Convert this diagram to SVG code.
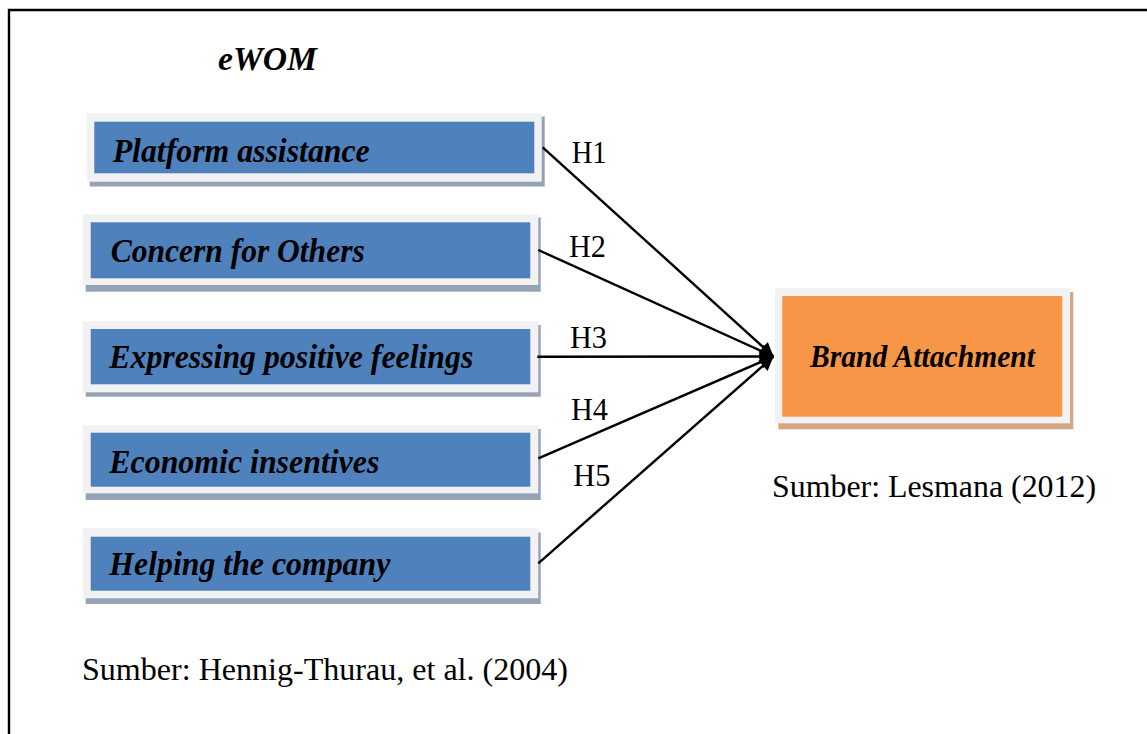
<svg xmlns="http://www.w3.org/2000/svg" width="1147" height="734" viewBox="0 0 1147 734">
<defs>
<style>
.outer{fill:#f2f2f2}
.shb{fill:#95a3b6}
.sho{fill:#d3a784}
.blue{fill:#4f81bd}
.orange{fill:#f79646}
.lbl{font-family:"Liberation Serif","Times New Roman",serif;font-weight:bold;font-style:italic;font-size:34px;fill:#000}
.reg{font-family:"Liberation Serif","Times New Roman",serif;font-size:32px;fill:#000}
.conn{stroke:#000;stroke-width:2.4;fill:none;marker-end:url(#ah)}
</style>
<marker id="ah" markerUnits="userSpaceOnUse" markerWidth="18" markerHeight="18" refX="14" refY="9" orient="auto">
<path d="M0,2 L14,9 L0,16 Z" fill="#000"/>
</marker>
</defs>
<rect width="1147" height="734" fill="#fff"/>
<path d="M9,734 V10 H1147" fill="none" stroke="#000" stroke-width="2.4"/>
<text class="lbl" x="218" y="70" textLength="99" lengthAdjust="spacingAndGlyphs">eWOM</text>

<g id="n1">
<rect class="shb" x="89.7" y="116.5" width="455" height="70"/>
<rect class="outer" x="86.7" y="113.3" width="455" height="68.4"/>
<rect class="blue" x="94.3" y="121.7" width="440" height="51.6"/>
<text class="lbl" x="112.7" y="161.7" textLength="257" lengthAdjust="spacingAndGlyphs">Platform assistance</text>
</g>
<g id="n2">
<rect class="shb" x="85.7" y="217.5" width="455" height="74.2"/>
<rect class="outer" x="82.7" y="214" width="455.6" height="71"/>
<rect class="blue" x="90.7" y="222.3" width="439.6" height="56"/>
<text class="lbl" x="110.7" y="261.7" textLength="254" lengthAdjust="spacingAndGlyphs">Concern for Others</text>
</g>
<g id="n3">
<rect class="shb" x="85.7" y="325" width="455" height="71.7"/>
<rect class="outer" x="82.7" y="321" width="455.6" height="71.3"/>
<rect class="blue" x="90.7" y="329" width="439.6" height="55.3"/>
<text class="lbl" x="109.3" y="368.3" textLength="364" lengthAdjust="spacingAndGlyphs">Expressing positive feelings</text>
</g>
<g id="n4">
<rect class="shb" x="85.7" y="429" width="455" height="71"/>
<rect class="outer" x="82.7" y="425" width="455.6" height="68.3"/>
<rect class="blue" x="90.7" y="432.7" width="439.6" height="54"/>
<text class="lbl" x="109.3" y="472.7" textLength="270" lengthAdjust="spacingAndGlyphs">Economic insentives</text>
</g>
<g id="n5">
<rect class="shb" x="85.7" y="532.5" width="455" height="71.5"/>
<rect class="outer" x="82.7" y="528.3" width="455.6" height="70"/>
<rect class="blue" x="90.7" y="536.7" width="439.6" height="54"/>
<text class="lbl" x="109.3" y="575" textLength="281" lengthAdjust="spacingAndGlyphs">Helping the company</text>
</g>
<g id="n6">
<rect class="sho" x="778.3" y="292" width="295" height="137.3"/>
<rect class="outer" x="775" y="288.3" width="295" height="135"/>
<rect class="orange" x="782.3" y="296" width="280" height="120.7"/>
<text class="lbl" x="810" y="367.3" textLength="225" lengthAdjust="spacingAndGlyphs" style="font-size:31px">Brand Attachment</text>
</g>

<g id="connectors">
<line class="conn" x1="542.7" y1="147.3" x2="773.5" y2="356.5"/>
<line class="conn" x1="538.3" y1="250" x2="773.5" y2="356.5"/>
<line class="conn" x1="537.3" y1="356.7" x2="773.5" y2="356.5"/>
<line class="conn" x1="538.3" y1="458.3" x2="773.5" y2="356.5"/>
<line class="conn" x1="538.3" y1="563.3" x2="773.5" y2="356.5"/>
<text class="reg" x="571.7" y="163.3" textLength="35" lengthAdjust="spacingAndGlyphs">H1</text>
<text class="reg" x="569" y="256.7" textLength="37" lengthAdjust="spacingAndGlyphs">H2</text>
<text class="reg" x="570" y="348.3" textLength="37" lengthAdjust="spacingAndGlyphs">H3</text>
<text class="reg" x="571" y="420" textLength="37" lengthAdjust="spacingAndGlyphs">H4</text>
<text class="reg" x="573.3" y="485.7" textLength="37" lengthAdjust="spacingAndGlyphs">H5</text>
</g>

<text class="reg" x="772" y="497.3" textLength="324" lengthAdjust="spacingAndGlyphs">Sumber: Lesmana (2012)</text>
<text class="reg" x="82" y="680" textLength="486" lengthAdjust="spacingAndGlyphs">Sumber: Hennig-Thurau, et al. (2004)</text>
</svg>
